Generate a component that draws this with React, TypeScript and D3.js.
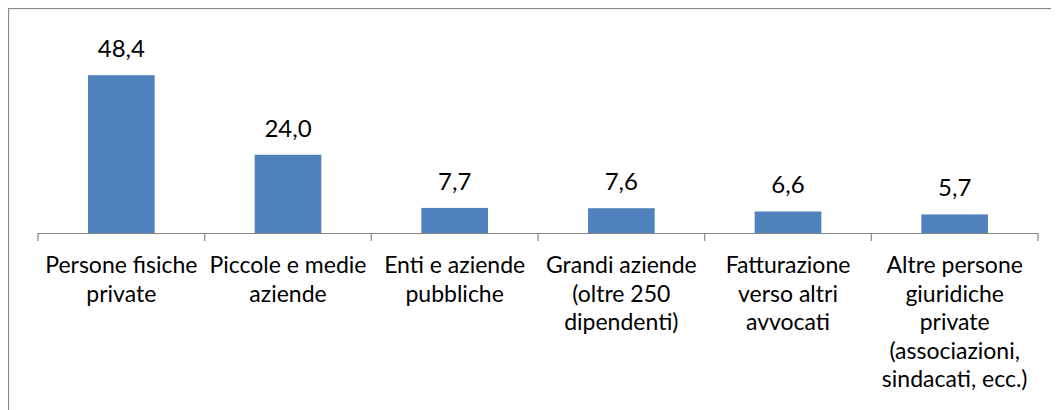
import React, { useEffect, useRef } from "react";
import * as d3 from "d3";

const categories = [
  "Persone fisiche private",
  "Piccole e medie aziende",
  "Enti e aziende pubbliche",
  "Grandi aziende (oltre 250 dipendenti)",
  "Fatturazione verso altri avvocati",
  "Altre persone giuridiche private (associazioni, sindacati, ecc.)",
];

// righe delle etichette come appaiono nel grafico
const labelLines = [
  ["Persone fisiche", "private"],
  ["Piccole e medie", "aziende"],
  ["Enti e aziende", "pubbliche"],
  ["Grandi aziende", "(oltre 250", "dipendenti)"],
  ["Fatturazione", "verso altri", "avvocati"],
  ["Altre persone", "giuridiche", "private", "(associazioni,", "sindacati, ecc.)"],
];

const values = [48.4, 24.0, 7.7, 7.6, 6.6, 5.7];

const App = () => {
  const ref = useRef<SVGSVGElement>(null);

  const width = 1051;
  const height = 402;
  const baseY = 225;
  const font = "Lato, 'Noto Sans', sans-serif";

  useEffect(() => {
    const svg = d3.select(ref.current);
    svg.selectAll("*").remove();

    // bordo dell'area del grafico (destra e sotto tagliati)
    svg
      .append("rect")
      .attr("x", 0.5)
      .attr("y", 0.5)
      .attr("width", width + 20)
      .attr("height", height + 20)
      .attr("fill", "white")
      .attr("stroke", "#898989")
      .attr("stroke-width", 1.3);

    const x = d3
      .scaleBand()
      .domain(categories)
      .range([30, 1030])
      .paddingInner(0.6)
      .paddingOuter(0.3);

    const y = d3.scaleLinear().domain([0, 50]).range([baseY, 62]);

    const step = x.step();

    svg
      .append("g")
      .selectAll("rect")
      .data(values)
      .join("rect")
      .attr("x", (d, i) => x(categories[i]))
      .attr("y", (d) => y(d))
      .attr("width", x.bandwidth())
      .attr("height", (d) => baseY - y(d))
      .attr("fill", "#4F81BD");

    // asse
    const axis = svg.append("g").attr("stroke", "#868686").attr("stroke-width", 1.2);
    axis
      .append("line")
      .attr("x1", 30)
      .attr("x2", 1030)
      .attr("y1", baseY + 0.5)
      .attr("y2", baseY + 0.5);
    axis
      .selectAll("line.tick")
      .data(d3.range(categories.length + 1))
      .join("line")
      .attr("class", "tick")
      .attr("x1", (i) => 30 + i * step)
      .attr("x2", (i) => 30 + i * step)
      .attr("y1", baseY)
      .attr("y2", baseY + 8);

    // valori sopra le barre
    svg
      .append("g")
      .selectAll("text")
      .data(values)
      .join("text")
      .attr("x", (d, i) => x(categories[i]) + x.bandwidth() / 2)
      .attr("y", (d) => y(d) - 18)
      .attr("text-anchor", "middle")
      .attr("font-family", font)
      .attr("font-size", 24)
      .attr("fill", "#000")
      .text((d) => d3.format(".1f")(d).replace(".", ","));

    // etichette categorie
    const lab = svg
      .append("g")
      .selectAll("text")
      .data(labelLines)
      .join("text")
      .attr("x", (d, i) => x(categories[i]) + x.bandwidth() / 2)
      .attr("y", 265)
      .attr("text-anchor", "middle")
      .attr("font-family", font)
      .attr("font-size", 23)
      .attr("fill", "#000");
    lab
      .selectAll("tspan")
      .data((d) => d)
      .join("tspan")
      .attr("x", function () {
        return (this.parentNode as SVGTextElement).getAttribute("x");
      })
      .attr("dy", (d, i) => (i === 0 ? 0 : 28.5))
      .text((d) => d);
  }, []);

  return (
    <svg ref={ref} width={width} height={height} style={{ display: "block" }} />
  );
};

export default App;
